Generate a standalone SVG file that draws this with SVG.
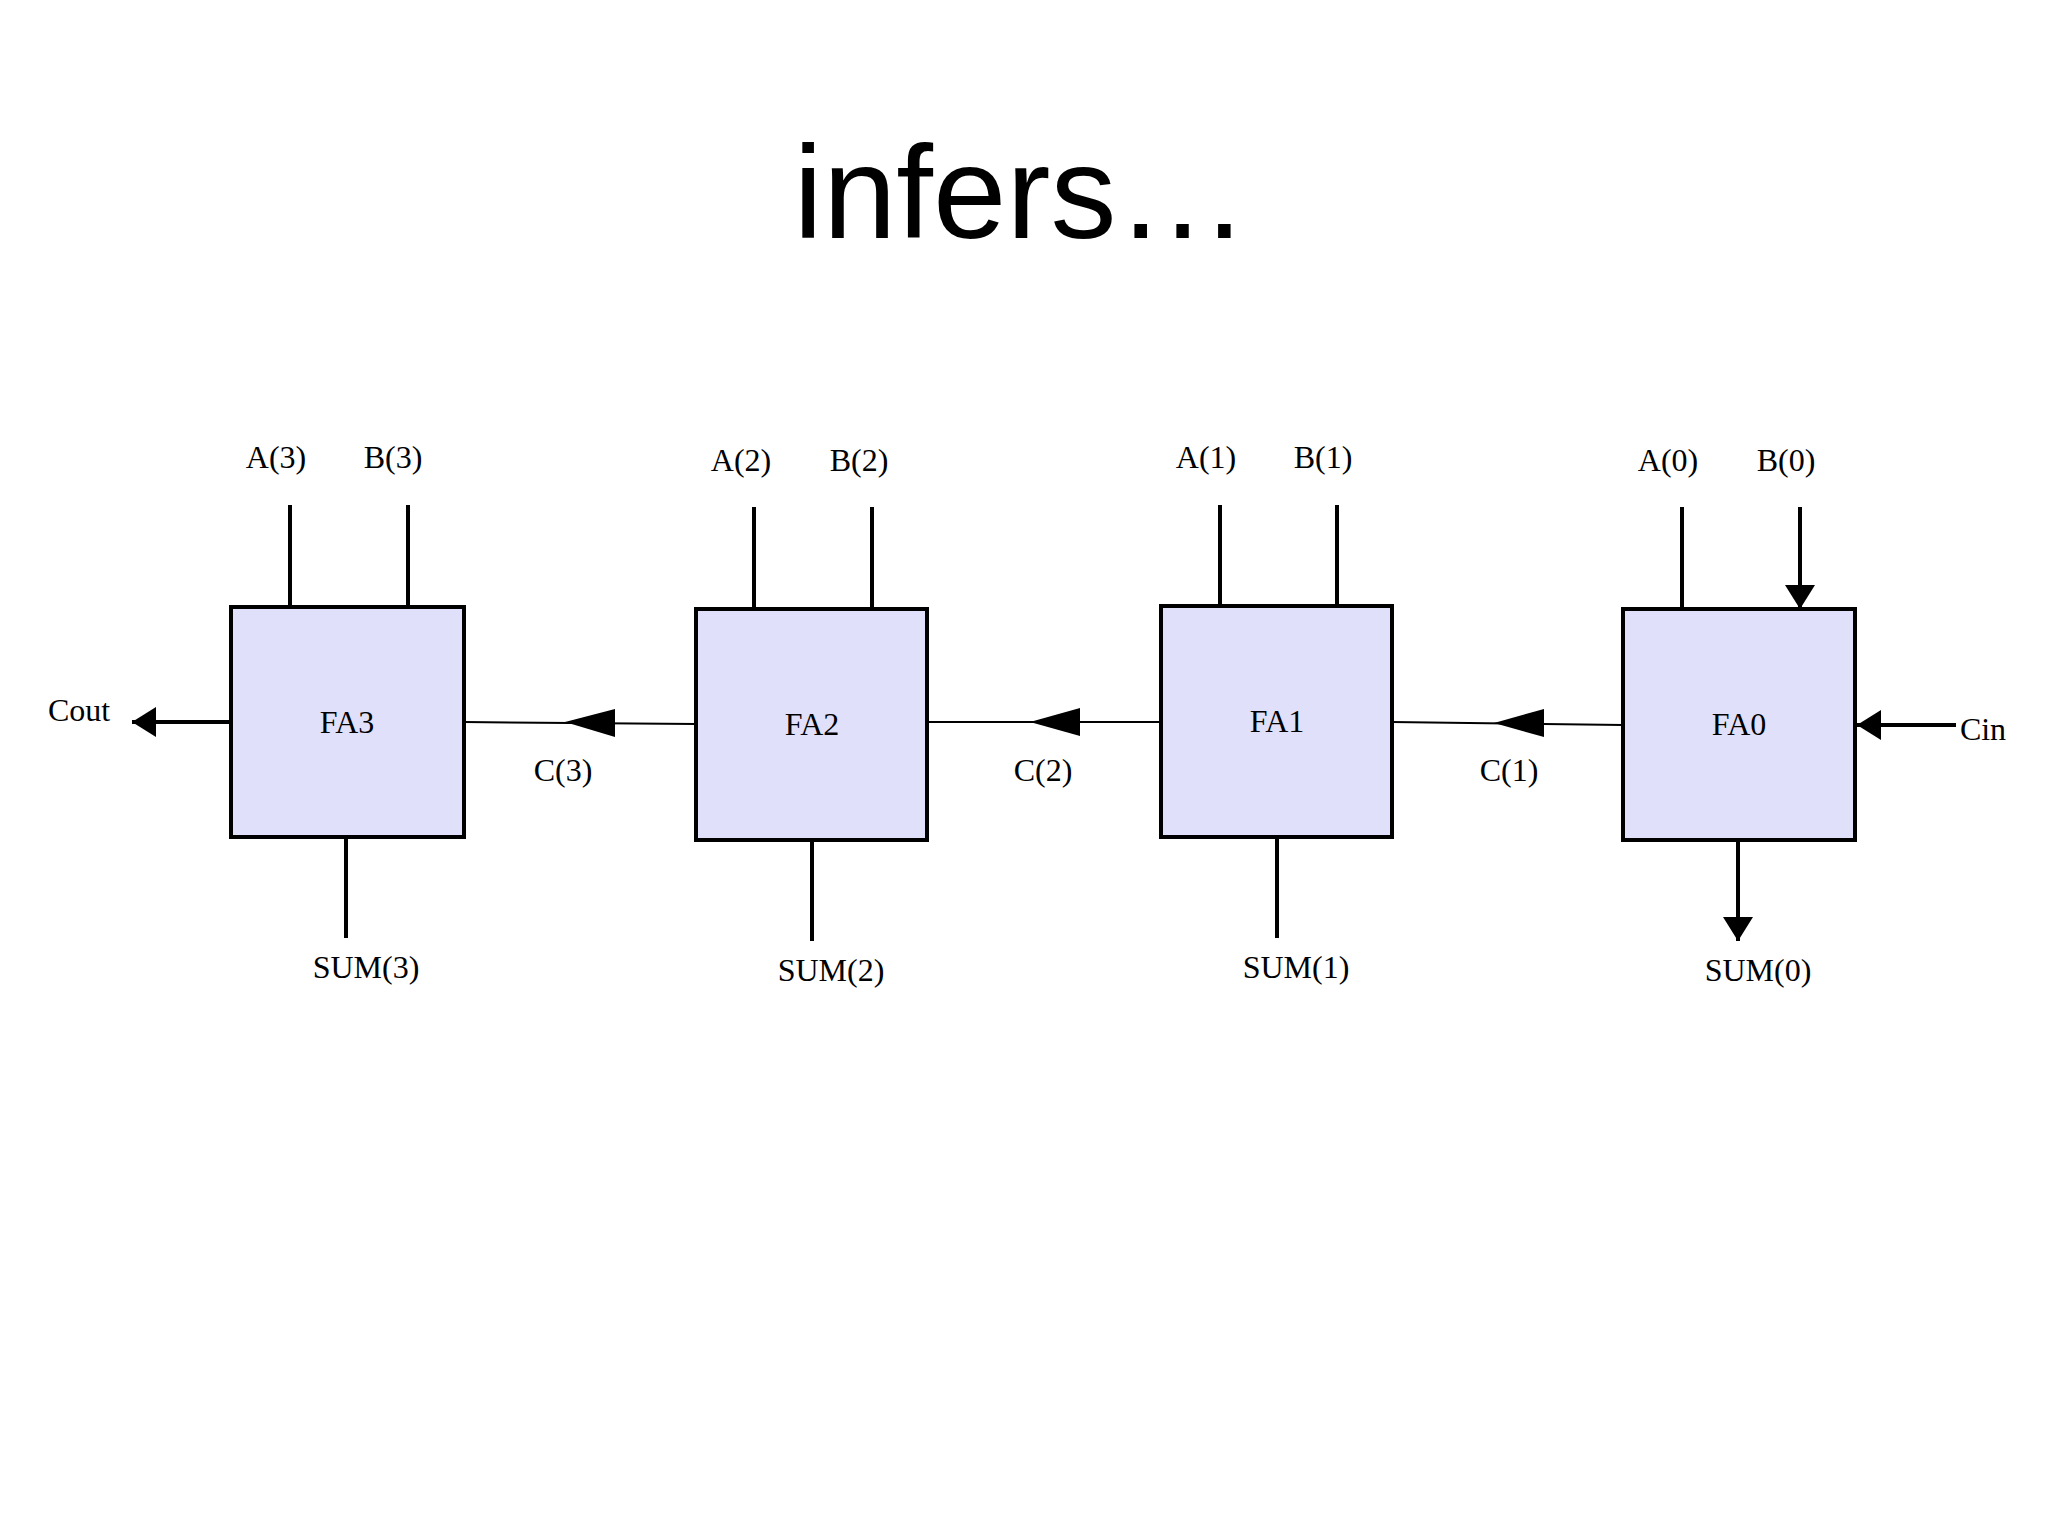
<svg xmlns="http://www.w3.org/2000/svg" width="2048" height="1536" viewBox="0 0 2048 1536">
<style>
.box{fill:#e0e0fa;stroke:#000;stroke-width:4}
.t{font-family:"Liberation Serif",serif;font-size:32px;fill:#000;text-anchor:middle}
.w{stroke:#000;stroke-width:4;fill:none}
.c{stroke:#000;stroke-width:2;fill:none}
</style>
<defs>
<marker id="ah" markerWidth="14" markerHeight="12" refX="14" refY="6" orient="auto" markerUnits="userSpaceOnUse" viewBox="0 0 14 12"><path d="M0,0 L14,6 L0,12 z" fill="#000"/></marker>
<marker id="ah2" markerWidth="24" markerHeight="30" refX="24" refY="15" orient="auto" markerUnits="userSpaceOnUse" viewBox="0 0 24 30"><path d="M0,0 L24,15 L0,30 z" fill="#000"/></marker>
</defs>
<rect width="2048" height="1536" fill="#fff"/>
<text x="1021" y="238" font-family="Liberation Sans,Arial,sans-serif" font-size="132" text-anchor="middle">infers…</text>
<g id="connectors">
<path class="w" d="M290,505V607M408,505V607M754,507V609M872,507V609M1220,505V606M1337,505V606M1682,507V609M1800,507V609" marker-end="url(#ah2)"/>
<path class="w" d="M346,837V938M812,840V941M1277,837V938M1738,840V941" marker-end="url(#ah2)"/>
<path class="w" d="M231,722H132" marker-end="url(#ah2)"/>
<path class="w" d="M1956,725H1857" marker-end="url(#ah2)"/>
<path class="c" d="M696,724L464,722"/><path d="M565,722L615,709L615,737z"/>
<path class="c" d="M1161,722L927,722"/><path d="M1030,722L1080,708L1080,736z"/>
<path class="c" d="M1623,725L1392,722"/><path d="M1494,723L1544,709L1544,737z"/>
</g>
<g id="FA3"><rect class="box" x="231" y="607" width="233" height="230"/><text class="t" x="347" y="733">FA3</text></g>
<g id="FA2"><rect class="box" x="696" y="609" width="231" height="231"/><text class="t" x="812" y="735">FA2</text></g>
<g id="FA1"><rect class="box" x="1161" y="606" width="231" height="231"/><text class="t" x="1277" y="732">FA1</text></g>
<g id="FA0"><rect class="box" x="1623" y="609" width="232" height="231"/><text class="t" x="1739" y="735">FA0</text></g>
<g id="labels">
<text class="t" x="276" y="468">A(3)</text><text class="t" x="393" y="468">B(3)</text>
<text class="t" x="741" y="471">A(2)</text><text class="t" x="859" y="471">B(2)</text>
<text class="t" x="1206" y="468">A(1)</text><text class="t" x="1323" y="468">B(1)</text>
<text class="t" x="1668" y="471">A(0)</text><text class="t" x="1786" y="471">B(0)</text>
<text class="t" x="563" y="781">C(3)</text><text class="t" x="1043" y="781">C(2)</text><text class="t" x="1509" y="781">C(1)</text>
<text class="t" x="366" y="978">SUM(3)</text><text class="t" x="831" y="981">SUM(2)</text><text class="t" x="1296" y="978">SUM(1)</text><text class="t" x="1758" y="981">SUM(0)</text>
<text class="t" x="79" y="721">Cout</text><text class="t" x="1983" y="740">Cin</text>
</g>
</svg>
